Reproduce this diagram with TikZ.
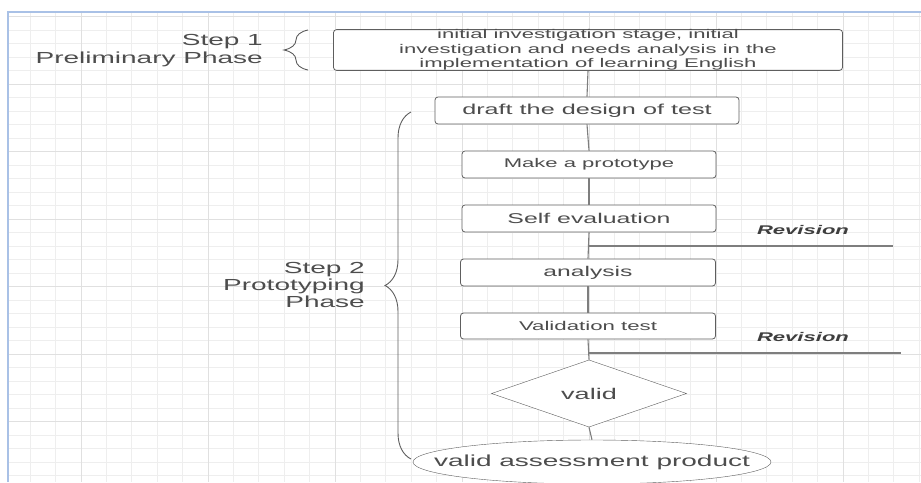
\documentclass[tikz,border=0pt]{standalone}
\usepackage{fontspec}
\setmainfont{Liberation Sans}[FakeStretch=1.75]
\usetikzlibrary{shapes.geometric,decorations.pathreplacing}
\definecolor{gridminor}{HTML}{EEEEEE}
\definecolor{gridmajor}{HTML}{E0E0E0}
\definecolor{frameblue}{HTML}{A9C1E6}
\definecolor{inkgray}{HTML}{4D4D4D}
\definecolor{edgegray}{HTML}{5E5E5E}
\begin{document}
\begin{tikzpicture}[x=1pt,y=-1pt,
		stagebox/.style={draw=edgegray,fill=white,rounded corners=3pt,line width=0.8pt,text=inkgray,inner sep=0pt,align=center},
		link/.style={draw=edgegray!80,line width=1.1pt},
		phaselabel/.style={text=inkgray,align=right,anchor=east,inner sep=0pt},
		revlabel/.style={text=inkgray!80!black,font=\fontsize{12.6}{14}\selectfont\bfseries\itshape},
		phasebrace/.style={draw=edgegray,line width=0.9pt,decorate,decoration={brace,amplitude=#1}}]
		\useasboundingbox (0,0) rectangle (921,482);
		%Grid
			\foreach \i in {0,...,35}
			{
				\draw[gridminor,line width=0.8pt] (30.2+25.4*\i,12) -- (30.2+25.4*\i,482);
			}
			\foreach \i in {0,...,34}
			{
				\draw[gridminor,line width=0.8pt] (8,16.5+13.5*\i) -- (921,16.5+13.5*\i);
			}
			\foreach \i in {0,...,6}
			{
				\draw[gridmajor,line width=1pt] (81+127*\i,12) -- (81+127*\i,482);
				\draw[gridmajor,line width=1pt] (8,16.5+67.5*\i) -- (921,16.5+67.5*\i);
			}
		%Frame
			\draw[frameblue,line width=1.5pt] (8,482) -- (8,12) -- (921,12);
		%Stages
			\node[stagebox,minimum width=509pt,minimum height=40pt,font=\fontsize{12.6}{14.5}\selectfont] (initial) at (588,50) {initial investigation stage, initial\\investigation and needs analysis in the\\implementation of learning English};
			\node[stagebox,minimum width=304pt,minimum height=27pt,font=\fontsize{14.4}{16}\selectfont] (draft) at (587,110.5) {draft the design of test};
			\node[stagebox,minimum width=254pt,minimum height=27pt,font=\fontsize{12.6}{14}\selectfont] (prototype) at (589,164.5) {Make a prototype};
			\node[stagebox,minimum width=254pt,minimum height=27pt,font=\fontsize{14.2}{16}\selectfont] (self) at (589,218.5) {Self evaluation};
			\node[stagebox,minimum width=255pt,minimum height=27pt,font=\fontsize{14.1}{16}\selectfont] (analysis) at (588,272.5) {analysis};
			\node[stagebox,minimum width=255pt,minimum height=26pt,font=\fontsize{12.7}{14}\selectfont] (validation) at (588,326) {Validation test};
			\node[draw=edgegray,fill=white,diamond,minimum width=195pt,minimum height=53pt,inner sep=0pt,text=inkgray,font=\fontsize{15.5}{17}\selectfont] (valid) at (589,393.5) {valid};
			\node[draw=edgegray,fill=white,ellipse,minimum width=358pt,minimum height=44pt,inner sep=0pt,
				label={[text=inkgray,font=\fontsize{16}{18}\selectfont,inner sep=0pt]center:valid assessment product}] (product) at (592,462) {};
		%Links
			\draw[link] (initial.south) -- (draft.north);
			\draw[link] (draft.south) -- (prototype.north);
			\draw[link] (prototype.south) -- (self.north);
			\draw[link] (self.south) -- (analysis.north);
			\draw[link] (analysis.south) -- (validation.north);
			\draw[link] (validation.south) -- (valid.north);
			\draw[link] (valid.south) -- (product.north);
		%Revision
			\coordinate (revone) at (893,246);
			\coordinate (revtwo) at (901,353);
			\draw[link] (self.south |- revone) -- (revone);
			\draw[link] (validation.south |- revtwo) -- (revtwo);
			\node[revlabel] (revonelabel) at (803,230) {Revision};
			\node[revlabel] (revtwolabel) at (803,337) {Revision};
		%Phases
			\coordinate (onetop) at (308,30);
			\coordinate (onebottom) at (308,70);
			\draw[phasebrace=24pt] (onebottom) -- (onetop);
			\node[phaselabel,font=\fontsize{16}{18}\selectfont] (stepone) at (263,51) {Step 1\\Preliminary Phase};
			\coordinate (twotop) at (411,112);
			\coordinate (twobottom) at (411,459);
			\draw[phasebrace=26pt] (twobottom) -- (twotop);
			\node[phaselabel,font=\fontsize{16}{17}\selectfont] (steptwo) at (365,285) {Step 2\\Prototyping\\Phase};
	\end{tikzpicture}
\end{document}
